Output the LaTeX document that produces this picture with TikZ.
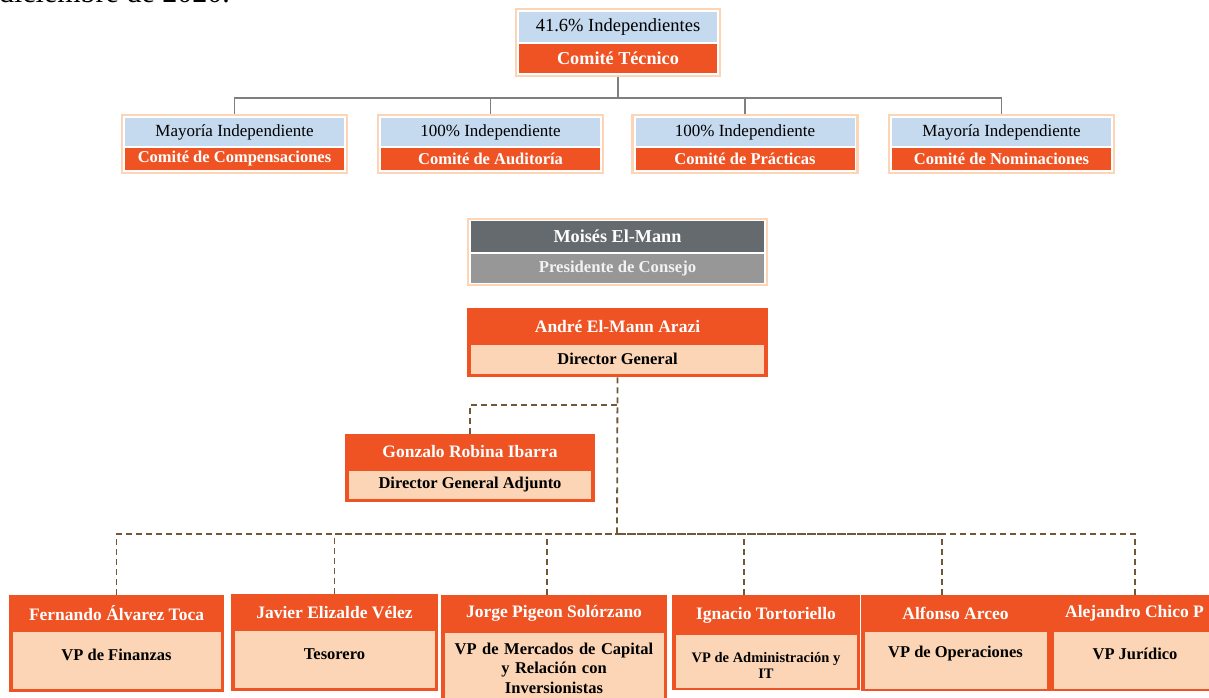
\documentclass[tikz,border=0pt]{standalone}
\usepackage{fontspec}
\setmainfont{Liberation Serif}
\definecolor{corange}{HTML}{F05323}
\definecolor{cpeach}{HTML}{FBD5B5}
\definecolor{cpeachbd}{HTML}{FCD5B6}
\definecolor{cblue}{HTML}{C5D9EF}
\definecolor{cdark}{HTML}{646A6D}
\definecolor{clight}{HTML}{979797}
\definecolor{cline}{HTML}{7F7F7F}
\definecolor{cdash}{HTML}{705838}
\newcommand\myfs[1]{\fontsize{#1}{#1}\selectfont}
\tikzset{
  outerbox/.style={rectangle, line width=2.5pt, inner sep=0pt},
  part/.style={rectangle, inner sep=0pt},
  bluepart/.style={part, fill=cblue, text=black, font=\myfs{17}},
  orangepart/.style={part, fill=corange, text=white, font=\myfs{16.5}\bfseries},
  peachpart/.style={part, fill=cpeach, draw=cpeachbd, line width=0.8pt},
  label/.style={inner sep=0pt, align=center},
  namefont/.style={text=white, font=\myfs{17.5}\bfseries},
  rolefont/.style={font=\myfs{16.5}\bfseries},
  grayline/.style={draw=cline, line width=1.8pt},
  dashline/.style={draw=cdash, line width=1.8pt, dash pattern=on 6pt off 4pt},
}
\begin{document}
\begin{tikzpicture}[x=1pt,y=-1pt]
\useasboundingbox (0,0) rectangle (1209,698);
\clip (0,0) rectangle (1209,698);
\node[anchor=base east, inner sep=0pt, font=\myfs{30}] (date) at (230,3) {diciembre de 2020.};

% ---- Comite Tecnico
\node[outerbox, draw=cpeachbd, fill=white, minimum width=204, minimum height=67] (T) at (618,42.5) {};
\node[bluepart, minimum width=198, minimum height=30, font=\myfs{18.5}] (Tt) at (618,27) {41.6\% Independientes};
\node[orangepart, minimum width=198, minimum height=29, font=\myfs{18.2}\bfseries] (Tb) at (618,58.5) {Comité Técnico};

% ---- committees
\foreach \n/\x/\a/\b in {1/234.5/Mayoría Independiente/Comité de Compensaciones,
                          2/490.5/100\% Independiente/Comité de Auditoría,
                          3/745/100\% Independiente/Comité de Prácticas,
                          4/1001.5/Mayoría Independiente/Comité de Nominaciones}{
  \node[outerbox, draw=cpeachbd, fill=white, minimum width=225, minimum height=58] (c\n) at (\x,144) {};
  \node[bluepart, minimum width=219, minimum height=28] (c\n t) at (\x,132) {\a};
  \node[orangepart, minimum width=219, minimum height=22] (c\n b) at (\x,159) {\b};
}
\coordinate (bus) at (618,98);
\draw[grayline] (T.south) -- (bus);
\foreach \n in {1,2,3,4}{ \draw[grayline] (c\n.north) |- (bus); }

% ---- Moises
\node[outerbox, draw=cpeachbd, fill=white, minimum width=299, minimum height=66] (M) at (617.5,252) {};
\node[part, fill=cdark, text=white, font=\myfs{18.2}\bfseries, minimum width=293, minimum height=31] (Mt) at (617.5,236.5) {Moisés El-Mann};
\node[part, fill=clight, text=white!95!black, font=\myfs{16.7}\bfseries, minimum width=293, minimum height=29] (Mb) at (617.5,268.5) {Presidente de Consejo};

% ---- Andre
\node[outerbox, draw=corange, fill=corange, minimum width=299, minimum height=67] (A) at (617.5,342.5) {};
\node[label, namefont] (At) at (617.5,327) {André El-Mann Arazi};
\node[peachpart, minimum width=292, minimum height=28] (Ab) at (617.5,359) {};
\node[label, rolefont] (Abl) at (617.5,359) {Director General};

% ---- Gonzalo
\node[outerbox, draw=corange, fill=corange, minimum width=248, minimum height=66] (G) at (470,468) {};
\node[label, namefont] (Gt) at (470,452) {Gonzalo Robina Ibarra};
\node[peachpart, minimum width=241, minimum height=27] (Gb) at (470,484.5) {};
\node[label, rolefont] (Gbl) at (470,484.5) {Director General Adjunto};

\coordinate (j1) at (617,405);
\coordinate (bus2) at (617,534);
\draw[dashline] (A.south) -- (bus2);
\draw[dashline] (G.north) |- (j1);

% ---- bottom row
% B1
\node[outerbox, draw=corange, fill=corange, minimum width=213, minimum height=95] (b1) at (116.5,643.5) {};
\node[label, namefont] (b1t) at (116.5,613) {Fernando Álvarez Toca};
\node[peachpart, minimum width=207, minimum height=56] (b1b) at (116.5,660.5) {};
\node[label, rolefont] (b1l) at (116.5,655) {VP de Finanzas};
% B2
\node[outerbox, draw=corange, fill=corange, minimum width=205, minimum height=95] (b2) at (334.5,642.5) {};
\node[label, namefont] (b2t) at (334.5,613) {Javier Elizalde Vélez};
\node[peachpart, minimum width=199, minimum height=56] (b2b) at (334.5,659.5) {};
\node[label, rolefont] (b2l) at (334.5,654) {Tesorero};
% B3
\node[outerbox, draw=corange, fill=corange, minimum width=224, minimum height=110] (b3) at (554,651) {};
\node[label, namefont] (b3t) at (554,613) {Jorge Pigeon Solórzano};
\node[peachpart, minimum width=218, minimum height=72] (b3b) at (554,669) {};
\node[label, font=\fontsize{16.5}{19.5}\selectfont\bfseries, text width=218] (b3l) at (554,668) {VP de Mercados de Capital\\ y Relación con\\ Inversionistas};
% B4
\node[outerbox, draw=corange, fill=corange, minimum width=186, minimum height=93] (b4) at (766,642.5) {};
\node[label, namefont] (b4t) at (766,615) {Ignacio Tortoriello};
\node[peachpart, minimum width=180, minimum height=52] (b4b) at (766,661) {};
\node[label, font=\fontsize{14.5}{16}\selectfont\bfseries] (b4l) at (766,665) {VP de Administración y\\ IT};
% B5
\node[outerbox, draw=corange, fill=corange, minimum width=187, minimum height=94] (b5) at (955.5,643) {};
\node[label, namefont] (b5t) at (955.5,613) {Alfonso Arceo};
\node[peachpart, minimum width=181, minimum height=56] (b5b) at (955.5,660) {};
\node[label, rolefont] (b5l) at (955.5,654) {VP de Operaciones};
% B6
\node[outerbox, draw=corange, fill=corange, minimum width=168, minimum height=94] (b6) at (1135,643) {};
\node[label, namefont, anchor=west] (b6t) at (1065,613) {Alejandro Chico P};
\node[peachpart, minimum width=162, minimum height=56] (b6b) at (1135,660) {};
\node[label, rolefont] (b6l) at (1135,654) {VP Jurídico};

\draw[dashline] (b1.north) |- (bus2);
\draw[dashline] (b2.north) |- (bus2);
\draw[dashline] ([xshift=-7pt]b3.north) |- (bus2);
\draw[dashline] ([xshift=-22pt]b4.north) |- (bus2);
\draw[dashline] ([xshift=-13.5pt]b5.north) |- (bus2);
\draw[dashline] (b6.north) |- (bus2);
\end{tikzpicture}
\end{document}
